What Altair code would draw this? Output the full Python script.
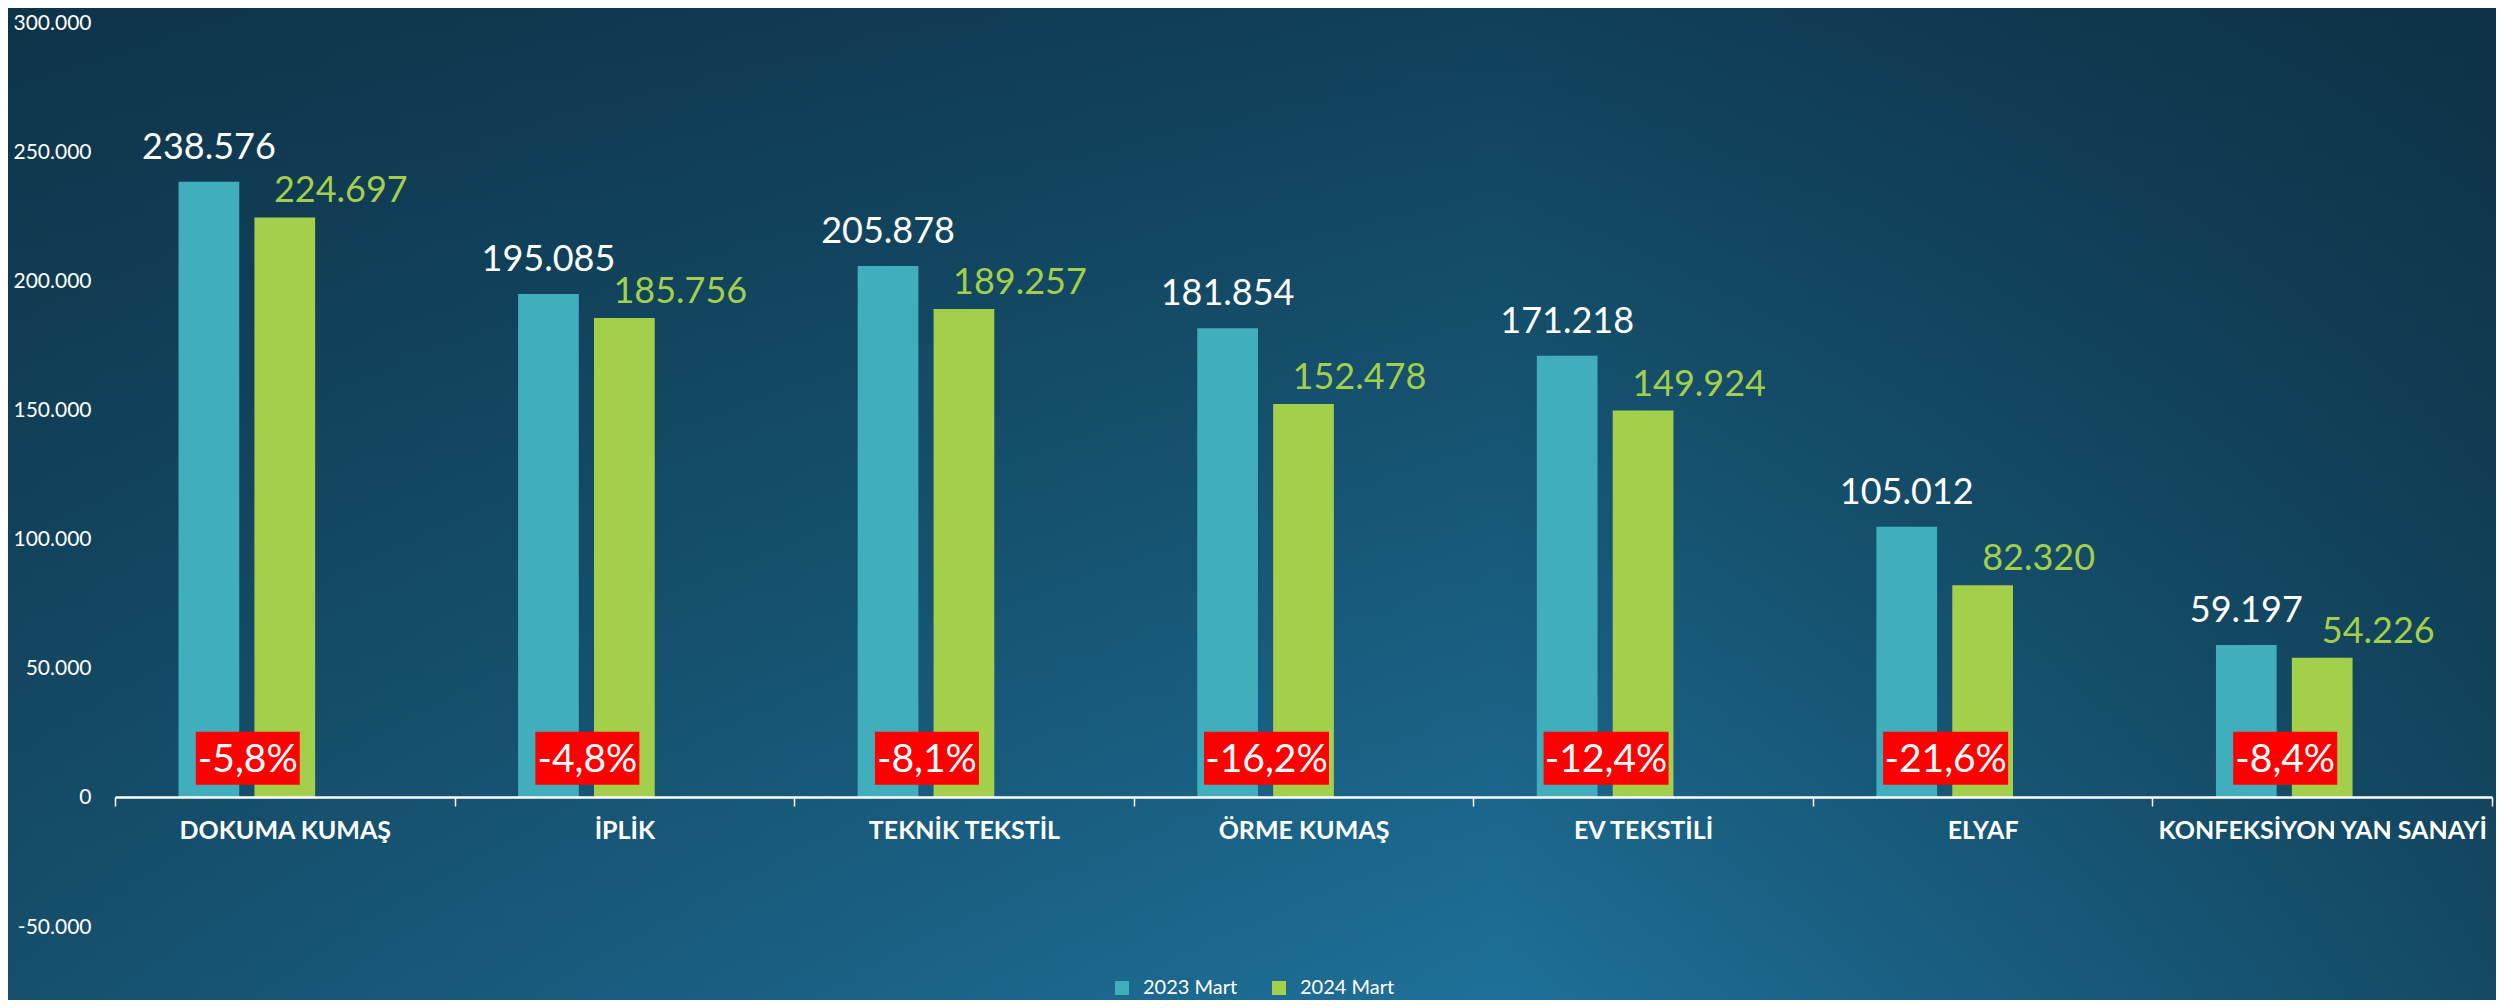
import altair as alt
import pandas as pd

# ---------------- data ----------------
categories = ["DOKUMA KUMAŞ", "İPLİK", "TEKNİK TEKSTİL", "ÖRME KUMAŞ",
              "EV TEKSTİLİ", "ELYAF", "KONFEKSİYON YAN SANAYİ"]
values_2023 = [238576, 195085, 205878, 181854, 171218, 105012, 59197]
values_2024 = [224697, 185756, 189257, 152478, 149924, 82320, 54226]
series = ["2023 Mart", "2024 Mart"]
y_ticks = [-50000, 0, 50000, 100000, 150000, 200000, 250000, 300000]

# ---------------- styling ----------------
COLORS = ["#41aebd", "#a3cf4a"]
FONT = "Lato"
W, H = 2377, 904
PAD = {"left": 107, "top": 15, "right": 4, "bottom": 73}
Y_DOMAIN = [-50000, 300000]
PCT_Y = 15300            # anchor of the change labels (data units)
BOX_HALF = 10250         # half height of red box (data units, ~26px)
PCT_DX = -37

wide = pd.DataFrame({"cat": categories, "v2023": values_2023, "v2024": values_2024})

x_enc = alt.X(
    "cat:N", sort=categories, title=None,
    scale=alt.Scale(paddingInner=0, paddingOuter=0),
    axis=alt.Axis(
        labelAngle=0, labelFont=FONT, labelFontWeight="bold", labelFontSize=25,
        labelColor="white", labelLimit=500, labelPadding=12,
        domainColor="white", domainWidth=2.5, tickColor="white", tickWidth=1.5,
        tickSize=9, tickBand="extent", offset=-130, zindex=1, grid=False,
    ),
)
y_scale = alt.Scale(domain=Y_DOMAIN, nice=False, zero=False)
xoff_scale = alt.Scale(domain=series + ["_"], paddingInner=0.2, paddingOuter=0.837)

# background: vertical gradient + horizontal edge darkening
vert = alt.LinearGradient(
    gradient="linear",
    stops=[
        alt.GradientStop(color="#11405a", offset=0),
        alt.GradientStop(color="#175877", offset=0.5),
        alt.GradientStop(color="#1e7099", offset=1),
    ],
    x1=0, y1=0, x2=0, y2=1,
)
horiz = alt.LinearGradient(
    gradient="linear",
    stops=[
        alt.GradientStop(color="rgba(10,35,50,0.42)", offset=0),
        alt.GradientStop(color="rgba(10,35,50,0)", offset=0.6),
        alt.GradientStop(color="rgba(10,35,50,0.5)", offset=1),
    ],
    x1=0, y1=0, x2=1, y2=0,
)
bg_data = alt.Chart(pd.DataFrame({"bg": [0]}))
bg_enc = dict(
    x=alt.value(-PAD["left"]), x2=alt.value(W + PAD["right"]),
    y=alt.value(-PAD["top"]), y2=alt.value(H + PAD["bottom"]),
)
bg1 = bg_data.mark_rect(fill=vert, strokeWidth=0).encode(**bg_enc)
bg2 = bg_data.mark_rect(fill=horiz, strokeWidth=0).encode(**bg_enc)

base = alt.Chart(wide)

bars = base.transform_fold(["v2023", "v2024"], as_=["key", "value"]).transform_calculate(
    series="datum.key == 'v2023' ? '2023 Mart' : '2024 Mart'"
).mark_bar().encode(
    x=x_enc,
    xOffset=alt.XOffset("series:N", scale=xoff_scale),
    y=alt.Y("value:Q", scale=y_scale, title=None,
            axis=alt.Axis(values=y_ticks, format=",d", labelFont=FONT, labelFontSize=21,
                          labelColor="white", grid=False, domain=False, ticks=False,
                          labelPadding=24, zindex=1)),
    color=alt.Color("series:N", scale=alt.Scale(domain=series, range=COLORS),
                    legend=alt.Legend(title=None, orient="none", direction="horizontal",
                                      legendX=997, legendY=955, padding=0,
                                      labelFont=FONT, labelFontSize=20, labelColor="white",
                                      symbolType="square", symbolSize=196, symbolStrokeWidth=0,
                                      labelOffset=11, columnPadding=31, zindex=1)),
)

lab23 = base.transform_calculate(series="'2023 Mart'").mark_text(
    font=FONT, fontSize=36, color="white", baseline="alphabetic", dy=-23
).encode(
    x=alt.X("cat:N", sort=categories),
    xOffset=alt.XOffset("series:N", scale=xoff_scale),
    y=alt.Y("v2023:Q", scale=y_scale),
    text=alt.Text("v2023:Q", format=",d"),
)

lab24 = base.transform_calculate(series="'2024 Mart'").mark_text(
    font=FONT, fontSize=36, color=COLORS[1], baseline="alphabetic", dy=-15, dx=56
).encode(
    x=alt.X("cat:N", sort=categories),
    xOffset=alt.XOffset("series:N", scale=xoff_scale),
    y=alt.Y("v2024:Q", scale=y_scale),
    text=alt.Text("v2024:Q", format=",d"),
)

pct_base = base.transform_calculate(
    pct="(datum.v2024 - datum.v2023) / datum.v2023",
    b1=f"{PCT_Y} - {BOX_HALF}",
    b2=f"{PCT_Y} + {BOX_HALF}",
)

box_short = pct_base.transform_filter("abs(datum.pct) < 0.1").mark_bar(
    color="#ff0000", width=104, xOffset=PCT_DX
).encode(x=alt.X("cat:N", sort=categories), y=alt.Y("b1:Q", scale=y_scale), y2="b2:Q")

box_long = pct_base.transform_filter("abs(datum.pct) >= 0.1").mark_bar(
    color="#ff0000", width=125, xOffset=PCT_DX
).encode(x=alt.X("cat:N", sort=categories), y=alt.Y("b1:Q", scale=y_scale), y2="b2:Q")

pct_text = pct_base.mark_text(
    font=FONT, fontSize=39, color="white", baseline="middle", dx=PCT_DX, dy=2
).encode(
    x=alt.X("cat:N", sort=categories),
    y=alt.Y(datum=PCT_Y, scale=y_scale),
    text=alt.Text("pct:Q", format=".1%"),
)

chart = alt.layer(bg1, bg2, bars, lab23, lab24, box_short, box_long, pct_text).properties(
    width=W, height=H, padding=PAD,
    autosize=alt.AutoSizeParams(type="none"),
).configure(
    locale={"number": {"decimal": ",", "thousands": ".", "grouping": [3],
                       "currency": ["", " ₺"], "minus": "-"}},
).configure_view(stroke=None)

chart.save("out.html", embed_options={"renderer": "svg", "actions": False})
